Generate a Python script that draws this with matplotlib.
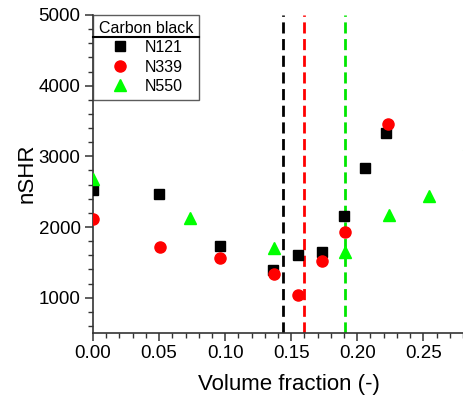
import matplotlib
matplotlib.use("Agg")
import matplotlib.pyplot as plt
from matplotlib.ticker import MultipleLocator
from matplotlib.lines import Line2D

plt.rcParams['font.family'] = ['Liberation Sans', 'DejaVu Sans']

# N121
n121_x = [0.0, 0.050, 0.096, 0.136, 0.155, 0.173, 0.190, 0.206, 0.2215]
n121_y = [2525, 2460, 1737, 1394, 1610, 1643, 2160, 2835, 3330]
# N339
n339_x = [0.0, 0.0505, 0.096, 0.137, 0.155, 0.1735, 0.1905, 0.223]
n339_y = [2113, 1718, 1563, 1338, 1042, 1516, 1934, 3451]
# N550
n550_x = [0.0, 0.0737, 0.137, 0.191, 0.224, 0.2545, 0.2845]
n550_y = [2676, 2127, 1704, 1643, 2165, 2437, 3169]

# percolation thresholds
vlines_x = [0.144, 0.160, 0.191]
vlines_c = ['black', 'red', '#00e600']

fig = plt.figure(figsize=(4.63, 4.04), dpi=100)
ax = fig.add_axes([93/463, 71/404, 1 - 93/463, (333-15)/404])

for xv, c in zip(vlines_x, vlines_c):
    ax.axvline(xv, color=c, lw=2, ls=(0, (4, 2)), zorder=1)

ax.plot(n121_x, n121_y, 's', color='black', ms=7.5, label='N121', zorder=3)
ax.plot(n339_x, n339_y, 'o', color='red', ms=8, label='N339', zorder=3)
ax.plot(n550_x, n550_y, '^', color='#00ff00', ms=9, label='N550', zorder=3)

ax.set_xlim(0, 0.28)
ax.set_ylim(500, 5000)
ax.xaxis.set_minor_locator(MultipleLocator(0.01))
ax.yaxis.set_minor_locator(MultipleLocator(200))
ax.set_xticks([0.0, 0.05, 0.10, 0.15, 0.20, 0.25])
ax.set_xticklabels(['0.00', '0.05', '0.10', '0.15', '0.20', '0.25'])
ax.set_yticks([1000, 2000, 3000, 4000, 5000])

ax.spines['top'].set_visible(False)
ax.spines['right'].set_visible(False)
for s in ['left', 'bottom']:
    ax.spines[s].set_color('#333333')
    ax.spines[s].set_linewidth(1.2)
ax.tick_params(which='major', direction='out', length=6, width=1.1,
               labelsize=13.5, color='#333333', pad=3)
ax.tick_params(which='minor', direction='out', length=3.5, width=1.0, color='#333333')

ax.set_xlabel('Volume fraction (-)', fontsize=16)
ax.set_ylabel('nSHR', fontsize=16)
ax.xaxis.set_label_coords(0.53, -0.13)
ax.yaxis.set_label_coords(-0.151, 0.502)

leg = ax.legend(title='Carbon black', loc='upper left', bbox_to_anchor=(0, 1.0),
                borderaxespad=0.0, fontsize=11.5, title_fontsize=11.5,
                frameon=True, fancybox=False, edgecolor='#333333',
                handletextpad=0.8, borderpad=0.35, labelspacing=0.28,
                handlelength=1.5)
leg.get_frame().set_linewidth(1.0)
leg.set_zorder(5)

fig.canvas.draw()
fb = leg.get_frame().get_window_extent()
tb = leg.get_title().get_window_extent()
yline = tb.y0 - 1
inv = fig.transFigure.inverted()
(x0, y0) = inv.transform((fb.x0, yline))
(x1, _) = inv.transform((fb.x1, yline))
fig.add_artist(Line2D([x0, x1], [y0, y0], color='black', lw=1.5, zorder=6))

fig.savefig('out.png', dpi=100)
